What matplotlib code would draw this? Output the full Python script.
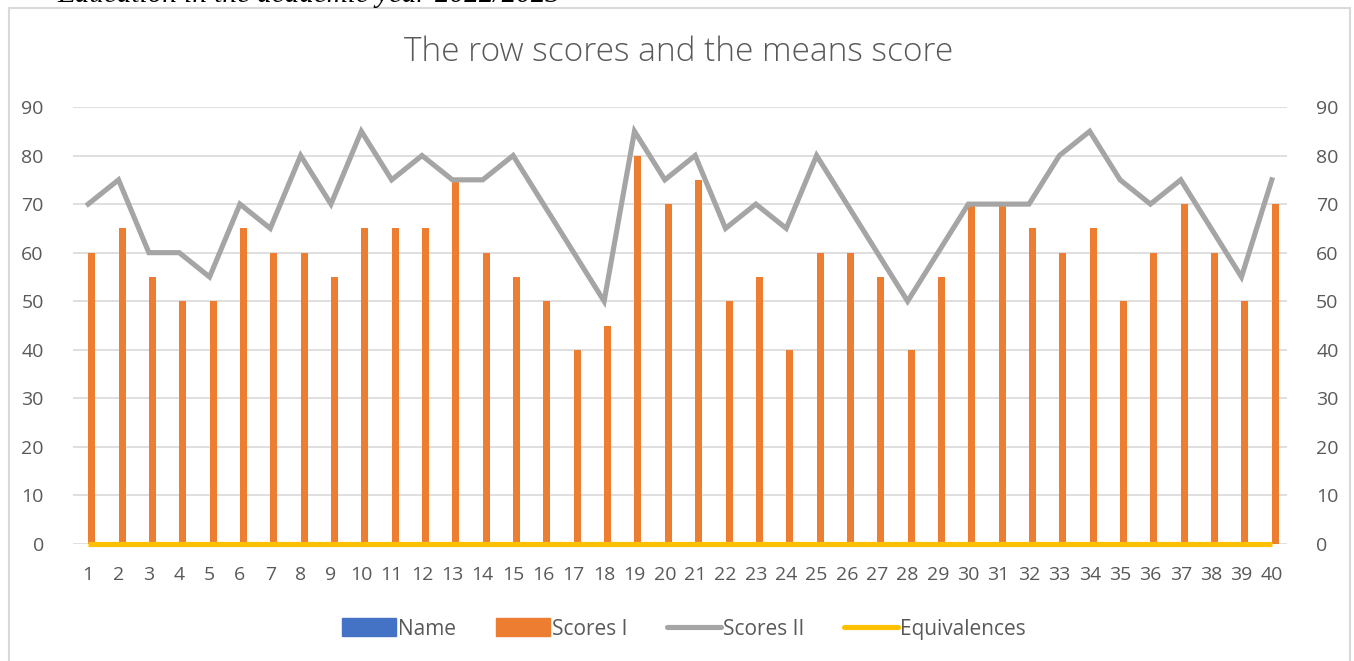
import numpy as np
import matplotlib.pyplot as plt
from matplotlib.patches import Rectangle, Patch
from matplotlib.lines import Line2D

# data
students = list(range(1, 41))
name = [0] * 40
scores_1 = [60, 65, 55, 50, 50, 65, 60, 60, 55, 65,
            65, 65, 75, 60, 55, 50, 40, 45, 80, 70,
            75, 50, 55, 40, 60, 60, 55, 40, 55, 70,
            70, 65, 60, 65, 50, 60, 70, 60, 50, 70]
scores_2 = [70, 75, 60, 60, 55, 70, 65, 80, 70, 85,
            75, 80, 75, 75, 80, 70, 60, 50, 85, 75,
            80, 65, 70, 65, 80, 70, 60, 50, 60, 70,
            70, 70, 80, 85, 75, 70, 75, 65, 55, 75]
equivalences = [0] * 40
y_ticks = [0, 10, 20, 30, 40, 50, 60, 70, 80, 90]

plt.rcParams["font.family"] = ["Open Sans", "DejaVu Sans"]

fig = plt.figure(figsize=(13.54, 6.61), dpi=100)
W, H = 1354, 661

# chart frame (bottom edge runs off the picture)
fig.patches.append(Rectangle((9 / W, -0.01), (1350 - 9) / W, 1 - 8 / H + 0.01,
                             transform=fig.transFigure, fill=False,
                             edgecolor="#d9d9d9", lw=1.5))
# cropped document text above the chart
fig.text(57 / W, 1 - 2 / H, "Education in the academic year 2022/2023",
         family="Liberation Serif", style="italic", fontsize=21, va="baseline")

ax = fig.add_axes([73 / W, 1 - 544 / H, (1287 - 73) / W, (544 - 107) / H])
x = np.arange(len(students))
w = 0.23
ax.bar(x - w / 2, name, width=w, color="#4472c4", zorder=2)
ax.bar(x + w / 2, scores_1, width=w, color="#ed7d31", zorder=2)
ax.plot(x, scores_2, color="#a5a5a5", lw=3.7, zorder=3, solid_joinstyle="miter")
ax.plot(x, equivalences, color="#ffc000", lw=3.7, zorder=4,
        solid_capstyle="butt", clip_on=False)

ax.set_xlim(-0.5, len(students) - 0.5)
ax.set_ylim(0, 90)
ax.set_yticks(y_ticks)
ax.set_xticks(x)
ax.set_xticklabels([str(s) for s in students])
ax.grid(axis="y", color="#d9d9d9", lw=1.2, zorder=0)
for s in ax.spines.values():
    s.set_visible(False)
ax.tick_params(length=0, labelsize=14, labelcolor="#595959")
ax.tick_params(axis="y", pad=21)
ax.tick_params(axis="x", pad=16)

ax2 = ax.twinx()
ax2.set_ylim(0, 90)
ax2.set_yticks(y_ticks)
for s in ax2.spines.values():
    s.set_visible(False)
ax2.tick_params(length=0, labelsize=14, labelcolor="#595959", pad=21)

fig.text(679 / W, 1 - 52 / H, "The row scores and the means score",
         ha="center", va="center", fontsize=24, color="#595959",
         fontweight="light")

handles = [Patch(color="#4472c4"), Patch(color="#ed7d31"),
           Line2D([], [], color="#a5a5a5", lw=3.7, solid_capstyle="round"),
           Line2D([], [], color="#ffc000", lw=3.7, solid_capstyle="round")]
fig.legend(handles, ["Name", "Scores I", "Scores II", "Equivalences"],
           loc="center", bbox_to_anchor=(684 / W, 1 - 629 / H), ncol=4,
           frameon=False, fontsize=15, labelcolor="#595959",
           handlelength=2.6, handleheight=0.95, handletextpad=0.1,
           columnspacing=1.9)

fig.savefig("out.png", dpi=100)
